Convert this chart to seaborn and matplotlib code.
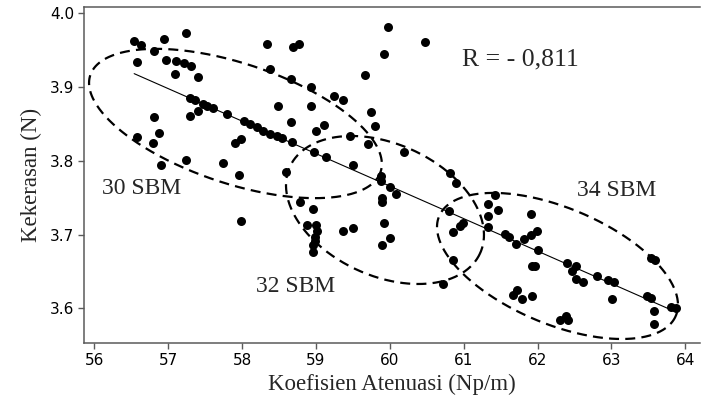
import numpy as np
import pandas as pd
import matplotlib
matplotlib.use("Agg")
import matplotlib.pyplot as plt
import seaborn as sns

# Koefisien Atenuasi (Np/m)
atenuasi = [
    56.54, 56.63, 56.58, 56.81, 56.95, 56.97, 57.11, 57.09, 57.24, 57.22,
    57.31, 57.40, 57.30, 57.37, 57.47, 57.53, 57.61, 57.79, 57.29, 57.40,
    56.81, 56.88, 56.58, 56.79, 56.90, 57.24, 57.74, 57.90, 57.96, 57.99,
    59.98, 60.48, 59.92, 59.67, 58.34, 58.69, 58.77, 58.38, 58.66, 58.93,
    59.25, 59.37, 59.75, 59.80, 58.49, 58.93, 58.66, 59.00, 59.11,
    58.02, 58.11, 58.20, 58.29, 58.38, 58.47, 58.54, 58.68,
    59.46, 59.71, 60.19, 58.97, 59.14, 59.50, 58.59, 59.88, 59.88,
    60.00, 60.08, 60.82, 60.89, 59.89, 59.89,
    57.99, 58.78, 58.96, 58.88, 59.00, 59.02, 58.99, 58.99, 58.96, 58.96,
    59.36, 59.50, 59.92, 60.00, 59.89, 60.72, 60.80, 60.85, 60.85, 60.95, 60.99,
    61.42, 61.33, 61.46, 61.33, 61.33, 61.56, 61.62, 61.71, 61.81, 61.91,
    61.99, 61.91, 62.01, 61.92, 61.96, 61.72, 61.67, 61.79, 61.92, 62.40,
    62.52, 62.46, 62.52, 62.62, 62.81, 62.96, 63.03, 63.01, 62.39, 62.30,
    62.41, 63.54, 63.59, 63.48, 63.53, 63.58, 63.58, 63.80, 63.87,
]
# Kekerasan (N)
kekerasan = [
    3.962, 3.957, 3.934, 3.949, 3.965, 3.937, 3.936, 3.918, 3.974, 3.932,
    3.928, 3.914, 3.885, 3.882, 3.877, 3.875, 3.871, 3.864, 3.861, 3.868,
    3.860, 3.838, 3.832, 3.824, 3.794, 3.801, 3.797, 3.824, 3.781, 3.829,
    3.982, 3.961, 3.945, 3.917, 3.959, 3.955, 3.958, 3.925, 3.911, 3.900,
    3.888, 3.882, 3.866, 3.847, 3.874, 3.875, 3.852, 3.841, 3.849,
    3.854, 3.850, 3.846, 3.841, 3.836, 3.834, 3.831, 3.825,
    3.834, 3.823, 3.812, 3.812, 3.805, 3.794, 3.785, 3.779, 3.773,
    3.765, 3.755, 3.783, 3.770, 3.750, 3.744,
    3.719, 3.744, 3.735, 3.713, 3.713, 3.705, 3.697, 3.691, 3.686, 3.677,
    3.705, 3.709, 3.715, 3.695, 3.686, 3.633, 3.732, 3.666, 3.704, 3.712, 3.715,
    3.754, 3.742, 3.733, 3.725, 3.710, 3.701, 3.697, 3.687, 3.694, 3.700,
    3.705, 3.728, 3.679, 3.657, 3.657, 3.625, 3.618, 3.613, 3.617, 3.662,
    3.658, 3.650, 3.640, 3.635, 3.644, 3.639, 3.636, 3.613, 3.590, 3.584,
    3.584, 3.668, 3.666, 3.616, 3.614, 3.596, 3.578, 3.602, 3.600,
]

group_labels = ["30 SBM", "32 SBM", "34 SBM"]
r_text = "R = - 0,811"

df = pd.DataFrame({"x": atenuasi, "y": kekerasan})

sns.set_theme(style="ticks")
plt.rcParams["font.family"] = ["DejaVu Sans"]

fig = plt.figure(figsize=(7.01, 3.98), dpi=100)
ax = fig.add_axes([84 / 701, 1 - 343.3 / 398, (700 - 84) / 701, (343.3 - 6.7) / 398])

sns.scatterplot(data=df, x="x", y="y", ax=ax, color="black", s=42,
                edgecolor="black", linewidth=0, legend=False, zorder=3)
sns.regplot(data=df, x="x", y="y", ax=ax, scatter=False, ci=None, truncate=True,
            line_kws=dict(color="black", lw=0.8, zorder=2))

xlim = (55.861, 64.199)
ylim = (3.5525, 4.009)
ax.set_xlim(*xlim)
ax.set_ylim(*ylim)
ax.set_xticks(np.arange(56, 65, 1))
ax.set_yticks([3.6, 3.7, 3.8, 3.9, 4.0])
ax.set_yticklabels(["3.6", "3.7", "3.8", "3.9", "4.0"])

# pixel-to-data scales
pxx = (xlim[1] - xlim[0]) / (700 - 84)
pxy = (ylim[1] - ylim[0]) / (343.3 - 6.7)

def dashed_ellipse(cx, cy, a, b, theta_deg):
    t = np.deg2rad(theta_deg)
    phi = np.linspace(0, 2 * np.pi, 500)
    dx = a * np.cos(t) * np.cos(phi) - b * np.sin(t) * np.sin(phi)
    dy = a * np.sin(t) * np.cos(phi) + b * np.cos(t) * np.sin(phi)
    ax.plot(cx + dx * pxx, cy - dy * pxy, color="black", lw=1.6,
            linestyle=(0, (4.5, 2.8)), zorder=4)

dashed_ellipse(57.911, 3.8506, 153, 60, 18.4)
dashed_ellipse(59.935, 3.7333, 104.5, 66, 24.4)
dashed_ellipse(62.270, 3.6574, 128.4, 58, 22.8)

serif = ["Liberation Serif", "DejaVu Serif"]
ax.text(56.646, 3.7618, group_labels[0], family=serif, fontsize=17, ha="center", va="center")
ax.text(58.731, 3.630, group_labels[1], family=serif, fontsize=17, ha="center", va="center")
ax.text(63.076, 3.760, group_labels[2], family=serif, fontsize=17, ha="center", va="center")
ax.text(61.765, 3.938, r_text, family=serif, fontsize=18.5, ha="center", va="center")

ax.set_xlabel("Koefisien Atenuasi (Np/m)", family=serif, fontsize=16.5, labelpad=4)
ax.set_ylabel("Kekerasan (N)", family=serif, fontsize=16.5, labelpad=6)

for side in ["left", "bottom", "top"]:
    ax.spines[side].set_color("#5a5a5a")
    ax.spines[side].set_linewidth(1.1)
    ax.spines[side].set_visible(True)
ax.spines["right"].set_visible(False)
ax.tick_params(axis="both", direction="out", length=4, width=1, color="#5a5a5a",
               labelsize=11, pad=3, labelcolor="black")

fig.savefig("out.png", dpi=100)
